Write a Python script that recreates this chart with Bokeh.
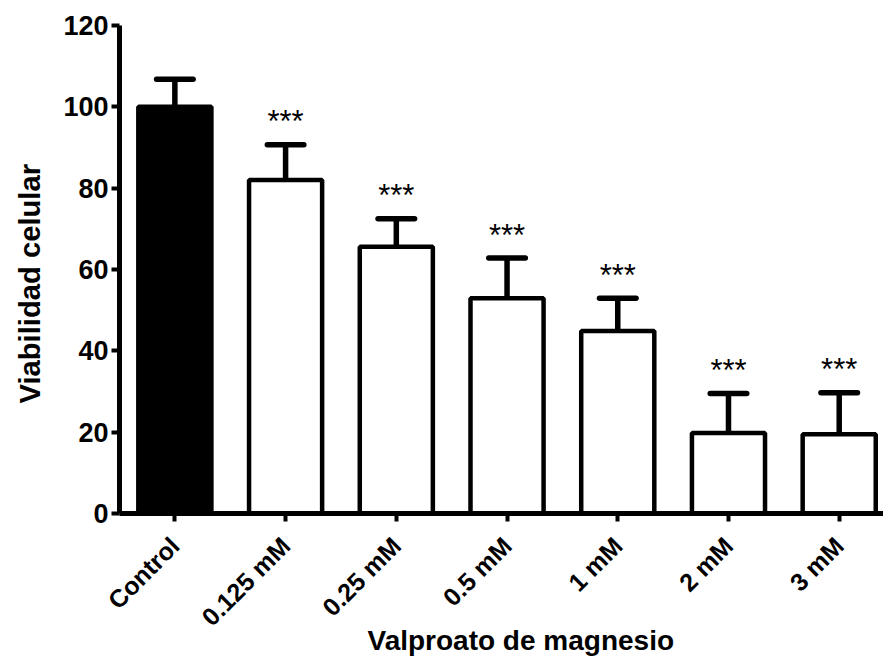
import math
from bokeh.plotting import figure
from bokeh.models import Range1d, FixedTicker, Title
from bokeh.core.properties import value
from bokeh.embed import file_html
from bokeh.resources import INLINE

categories = ["Control", "0.125 mM", "0.25 mM", "0.5 mM", "1 mM", "2 mM", "3 mM"]
means = [100.0, 82.0, 65.6, 52.9, 44.9, 19.8, 19.5]
sd = [6.8, 8.7, 6.9, 9.9, 8.0, 9.7, 10.2]
stars = ["", "***", "***", "***", "***", "***", "***"]
fills = ["#000000", "#ffffff", "#ffffff", "#ffffff", "#ffffff", "#ffffff", "#ffffff"]
y_ticks = [0, 20, 40, 60, 80, 100, 120]
x_title = "Valproato de magnesio"
y_title = "Viabilidad celular"

xs = list(range(len(categories)))
upper = [m + s for m, s in zip(means, sd)]

FONT = "Liberation Sans"

p = figure(width=883, height=656, output_backend="svg", toolbar_location=None,
           x_range=Range1d(-0.5, 6.4), y_range=Range1d(0, 120),
           min_border_left=119, min_border_right=0, min_border_top=25,
           min_border_bottom=143)
p.outline_line_color = None
p.grid.grid_line_color = None
p.background_fill_color = "white"
p.border_fill_color = "white"

# error bars (upper only)
cap_half = 0.165
p.segment(x0=xs, y0=means, x1=xs, y1=upper, line_color="black", line_width=5.5)
p.segment(x0=[x - cap_half for x in xs], y0=upper, x1=[x + cap_half for x in xs], y1=upper,
          line_color="black", line_width=5.5, line_cap="round")

# bars
p.vbar(x=xs, top=means, bottom=0, width=0.66, fill_color=fills, line_color="black",
       line_width=4.5)

# significance stars
p.text(x=xs, y=upper, text=stars, text_align="center", text_baseline="alphabetic",
       y_offset=-23, text_font=value(FONT), text_font_size="31px", text_color="black")

# axes
p.xaxis.ticker = FixedTicker(ticks=xs)
p.xaxis.major_label_overrides = {i: c for i, c in enumerate(categories)}
p.xaxis.major_label_orientation = math.pi / 4
p.xaxis.minor_tick_line_color = None
p.yaxis.minor_tick_line_color = None
p.yaxis.ticker = FixedTicker(ticks=y_ticks)

for ax in (p.xaxis, p.yaxis):
    ax.axis_line_width = 5
    ax.axis_line_color = "black"
    ax.major_tick_line_width = 4
    ax.major_tick_line_color = "black"
    ax.major_tick_out = 8
    ax.major_tick_in = 0
    ax.major_label_text_font = FONT
    ax.major_label_text_font_style = "bold"
    ax.major_label_text_color = "black"

p.yaxis.major_label_text_font_size = "27px"
p.yaxis.major_label_standoff = 3
p.xaxis.major_label_text_font_size = "25px"
p.xaxis.major_label_standoff = 20

# axis titles
xt = Title(text=x_title, align="left", offset=248, standoff=-37, vertical_align="top",
           text_font=FONT, text_font_style="bold", text_font_size="28px", text_color="black")
yt = Title(text=y_title, align="left", offset=110, standoff=26, vertical_align="top",
           text_font=FONT, text_font_style="bold", text_font_size="29.2px", text_color="black")
p.add_layout(xt, "below")
p.add_layout(yt, "left")

open("out.html", "w").write(file_html(p, INLINE))
